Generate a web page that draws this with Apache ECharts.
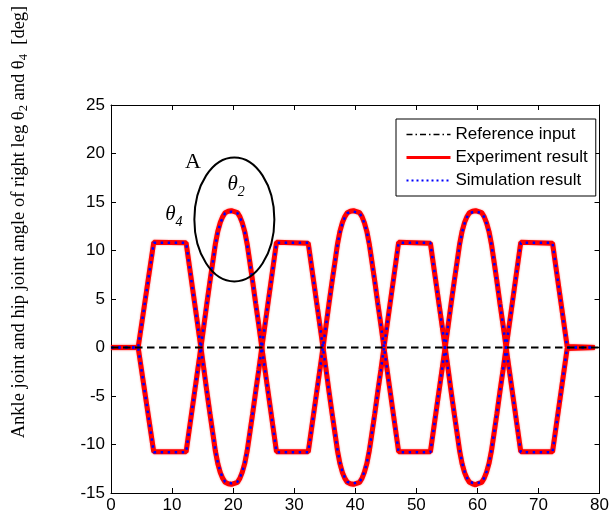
<!DOCTYPE html>
<html>
<head>
<meta charset="utf-8">
<script src="https://cdn.jsdelivr.net/npm/echarts@6/dist/echarts.min.js"></script>
<style>
  html, body { margin: 0; padding: 0; background: #fff; }
  #chart { width: 612px; height: 518px; }
</style>
</head>
<body>
<div id="chart"></div>
<script>
// Sampling instants [s]
const time = [
  0, 4.45, 7.0, 12.3, 14.7,
  15.2, 15.7, 16.2, 16.7, 17.1, 17.5, 17.9, 18.3, 18.7, 19.2, 19.7, 20.2, 20.7, 21.1, 21.5, 21.9, 22.3, 22.7, 23.2, 23.7, 24.2, 24.7,
  27.1, 32.3, 34.7,
  35.2, 35.7, 36.2, 36.7, 37.1, 37.5, 37.9, 38.3, 38.7, 39.2, 39.7, 40.2, 40.7, 41.1, 41.5, 41.9, 42.3, 42.7, 43.2, 43.7, 44.2, 44.7,
  47.1, 52.3, 54.7,
  55.2, 55.7, 56.2, 56.7, 57.1, 57.5, 57.9, 58.3, 58.7, 59.2, 59.7, 60.2, 60.7, 61.1, 61.5, 61.9, 62.3, 62.7, 63.2, 63.7, 64.2, 64.7,
  67.1, 72.3, 74.7, 79.2
];

// Ankle joint angle theta4 [deg]
const referenceAnkle = [
  0, 0, 10.8, 10.8, 0,
  -2.25, -4.5, -6.75, -8.9, -10.6, -11.9, -12.8, -13.45, -13.85, -13.95, -14.0, -13.95, -13.85, -13.45, -12.8, -11.9, -10.6, -8.9, -6.75, -4.5, -2.25, 0,
  10.8, 10.8, 0,
  -2.25, -4.5, -6.75, -8.9, -10.6, -11.9, -12.8, -13.45, -13.85, -13.95, -14.0, -13.95, -13.85, -13.45, -12.8, -11.9, -10.6, -8.9, -6.75, -4.5, -2.25, 0,
  10.8, 10.8, 0,
  -2.25, -4.5, -6.75, -8.9, -10.6, -11.9, -12.8, -13.45, -13.85, -13.95, -14.0, -13.95, -13.85, -13.45, -12.8, -11.9, -10.6, -8.9, -6.75, -4.5, -2.25, 0,
  10.8, 10.8, 0, 0
];
// Hip joint angle theta2 [deg]
const referenceHip = [
  0, 0, -10.8, -10.8, 0,
  2.25, 4.5, 6.75, 8.9, 10.6, 11.9, 12.8, 13.45, 13.85, 13.95, 14.0, 13.95, 13.85, 13.45, 12.8, 11.9, 10.6, 8.9, 6.75, 4.5, 2.25, 0,
  -10.8, -10.8, 0,
  2.25, 4.5, 6.75, 8.9, 10.6, 11.9, 12.8, 13.45, 13.85, 13.95, 14.0, 13.95, 13.85, 13.45, 12.8, 11.9, 10.6, 8.9, 6.75, 4.5, 2.25, 0,
  -10.8, -10.8, 0,
  2.25, 4.5, 6.75, 8.9, 10.6, 11.9, 12.8, 13.45, 13.85, 13.95, 14.0, 13.95, 13.85, 13.45, 12.8, 11.9, 10.6, 8.9, 6.75, 4.5, 2.25, 0,
  -10.8, -10.8, 0, 0
];

const experimentAnkle = [
  0, 0, 10.85, 10.8, 0.1,
  -2.2, -4.55, -6.8, -8.95, -10.7, -12.0, -12.9, -13.5, -13.9, -14.05, -14.1, -14.0, -13.9, -13.5, -12.85, -11.95, -10.65, -8.95, -6.8, -4.5, -2.3, 0,
  10.85, 10.75, 0.1,
  -2.2, -4.55, -6.8, -8.95, -10.7, -12.0, -12.9, -13.5, -13.9, -14.05, -14.1, -14.0, -13.9, -13.5, -12.85, -11.95, -10.65, -8.95, -6.8, -4.5, -2.3, 0,
  10.85, 10.75, 0.1,
  -2.2, -4.55, -6.8, -8.95, -10.7, -12.0, -12.9, -13.5, -13.9, -14.05, -14.15, -14.0, -13.9, -13.5, -12.85, -11.95, -10.65, -8.95, -6.8, -4.5, -2.3, 0,
  10.85, 10.75, 0.1, 0
];
const experimentHip = [
  0, 0, -10.75, -10.75, -0.1,
  2.2, 4.55, 6.8, 8.95, 10.7, 12.0, 12.9, 13.5, 13.9, 14.05, 14.1, 14.0, 13.9, 13.5, 12.85, 11.95, 10.65, 8.95, 6.8, 4.5, 2.3, 0,
  -10.75, -10.75, -0.1,
  2.2, 4.55, 6.8, 8.95, 10.7, 12.0, 12.9, 13.5, 13.9, 14.05, 14.1, 14.0, 13.9, 13.5, 12.85, 11.95, 10.65, 8.95, 6.8, 4.5, 2.3, 0,
  -10.75, -10.75, -0.1,
  2.2, 4.55, 6.8, 8.95, 10.7, 12.0, 12.9, 13.5, 13.9, 14.05, 14.1, 14.0, 13.9, 13.5, 12.85, 11.95, 10.65, 8.95, 6.8, 4.5, 2.3, 0,
  -10.75, -10.75, -0.1, 0
];

const simulationAnkle = [
  0, 0, 10.8, 10.8, 0,
  -2.25, -4.5, -6.75, -8.9, -10.6, -11.9, -12.8, -13.45, -13.85, -13.95, -14.0, -13.95, -13.85, -13.45, -12.8, -11.9, -10.6, -8.9, -6.75, -4.5, -2.25, 0,
  10.8, 10.8, 0,
  -2.25, -4.5, -6.75, -8.9, -10.6, -11.9, -12.8, -13.45, -13.85, -13.95, -14.0, -13.95, -13.85, -13.45, -12.8, -11.9, -10.6, -8.9, -6.75, -4.5, -2.25, 0,
  10.8, 10.8, 0,
  -2.25, -4.5, -6.75, -8.9, -10.6, -11.9, -12.8, -13.45, -13.85, -13.95, -14.0, -13.95, -13.85, -13.45, -12.8, -11.9, -10.6, -8.9, -6.75, -4.5, -2.25, 0,
  10.8, 10.8, 0, 0
];
const simulationHip = [
  0, 0, -10.8, -10.8, 0,
  2.25, 4.5, 6.75, 8.9, 10.6, 11.9, 12.8, 13.45, 13.85, 13.95, 14.0, 13.95, 13.85, 13.45, 12.8, 11.9, 10.6, 8.9, 6.75, 4.5, 2.25, 0,
  -10.8, -10.8, 0,
  2.25, 4.5, 6.75, 8.9, 10.6, 11.9, 12.8, 13.45, 13.85, 13.95, 14.0, 13.95, 13.85, 13.45, 12.8, 11.9, 10.6, 8.9, 6.75, 4.5, 2.25, 0,
  -10.8, -10.8, 0,
  2.25, 4.5, 6.75, 8.9, 10.6, 11.9, 12.8, 13.45, 13.85, 13.95, 14.0, 13.95, 13.85, 13.45, 12.8, 11.9, 10.6, 8.9, 6.75, 4.5, 2.25, 0,
  -10.8, -10.8, 0, 0
];

// Zero level guide
const zeroTime = [0, 80];
const zeroValue = [0, 0];

const xTicks = { min: 0, max: 80, interval: 10 };
const yTicks = { min: -15, max: 25, interval: 5 };

const legendNames = ['Reference input', 'Experiment result', 'Simulation result'];

// Annotation anchors in data units
const labelA = [13.4, 19.1];
const labelTheta2 = [20.5, 16.8];
const labelTheta4 = [10.3, 13.7];
const circleCenter = [20.2, 13.2];

const pair = (xs, ys) => xs.map((x, i) => [x, ys[i]]);

const sansFont = "'Liberation Sans', Arial, sans-serif";
const serifFont = "'Liberation Serif', 'Times New Roman', serif";

const chart = echarts.init(document.getElementById('chart'), null, { renderer: 'canvas' });

const axisCommon = {
  type: 'value',
  axisLine: { show: true, onZero: false, lineStyle: { color: '#000', width: 1 } },
  axisTick: { show: true, inside: true, length: 5, lineStyle: { color: '#000', width: 1 } },
  splitLine: { show: false }
};

const refStyle = { color: '#000', width: 1.5, type: [6, 3, 1.5, 3] };
const expStyle = { color: '#ff0000', width: 5, shadowColor: 'rgba(255,0,0,0.45)', shadowBlur: 2 };
const simStyle = { color: '#0000ff', width: 2.5, type: [2.5, 4.5] };

function lineSeries(name, data, style, z) {
  return {
    name, type: 'line', data, symbol: 'none', smooth: false,
    xAxisIndex: 0, yAxisIndex: 0, z,
    lineStyle: style, itemStyle: { color: style.color },
    emphasis: { disabled: true }
  };
}

chart.setOption({
  animation: false,
  backgroundColor: '#fff',
  grid: { left: 111, right: 10, top: 105, bottom: 25, containLabel: false },
  xAxis: [
    Object.assign({}, axisCommon, xTicks, { position: 'bottom',
      axisLabel: { color: '#000', fontSize: 17, fontFamily: sansFont, margin: 4 } }),
    Object.assign({}, axisCommon, xTicks, { position: 'top', axisLabel: { show: false } })
  ],
  yAxis: [
    Object.assign({}, axisCommon, yTicks, { position: 'left',
      axisLabel: { color: '#000', fontSize: 17, fontFamily: sansFont, margin: 6 } }),
    Object.assign({}, axisCommon, yTicks, { position: 'right', axisLabel: { show: false } })
  ],
  legend: {
    orient: 'vertical',
    left: 396, top: 119,
    padding: [7, 8, 7, 9],
    itemWidth: 44, itemHeight: 14, itemGap: 6,
    borderColor: '#000', borderWidth: 1, backgroundColor: '#fff',
    textStyle: { color: '#000', fontSize: 17, lineHeight: 17, fontFamily: sansFont },
    itemStyle: { opacity: 0 },
    selectedMode: false,
    data: [
      { name: legendNames[0], lineStyle: { width: 1.5 } },
      { name: legendNames[1], lineStyle: { width: 3, shadowBlur: 0 } },
      { name: legendNames[2], lineStyle: { width: 2, type: [2, 3] } }
    ]
  },
  series: [
    lineSeries(legendNames[0], pair(time, referenceAnkle), refStyle, 2),
    lineSeries(legendNames[0], pair(time, referenceHip), refStyle, 2),
    lineSeries(legendNames[1], pair(time, experimentAnkle), expStyle, 3),
    lineSeries(legendNames[1], pair(time, experimentHip), expStyle, 3),
    lineSeries(legendNames[2], pair(time, simulationAnkle), simStyle, 4),
    lineSeries(legendNames[2], pair(time, simulationHip), simStyle, 4),
    lineSeries('Zero level', pair(zeroTime, zeroValue), { color: '#000', width: 2, type: [7.5, 4.5] }, 5)
  ]
});

// Annotations placed from data coordinates
const px = p => chart.convertToPixel({ gridIndex: 0 }, p);
const pA = px(labelA), pT2 = px(labelTheta2), pT4 = px(labelTheta4), pC = px(circleCenter);

const thetaRich = {
  t: { fontFamily: serifFont, fontStyle: 'italic', fontSize: 21, fill: '#000' },
  s: { fontFamily: serifFont, fontStyle: 'italic', fontSize: 14, padding: [16, 0, 0, 0], fill: '#000' }
};

chart.setOption({
  graphic: [
    {
      type: 'ellipse', z: 50,
      shape: { cx: pC[0], cy: pC[1], rx: 40, ry: 62 },
      style: { fill: 'none', stroke: '#000', lineWidth: 2 }
    },
    {
      type: 'text', z: 50, x: pA[0], y: pA[1],
      style: { text: 'A', fontFamily: serifFont, fontSize: 22, fill: '#000', align: 'center', verticalAlign: 'middle' }
    },
    {
      type: 'text', z: 50, x: pT2[0], y: pT2[1],
      style: { text: '{t|θ}{s|2}', rich: thetaRich, align: 'center', verticalAlign: 'middle' }
    },
    {
      type: 'text', z: 50, x: pT4[0], y: pT4[1],
      style: { text: '{t|θ}{s|4}', rich: thetaRich, align: 'center', verticalAlign: 'middle' }
    },
    {
      // y-axis title, reading bottom to top
      type: 'text', z: 50, x: 19, y: 222, rotation: Math.PI / 2,
      style: {
        text: '{n|Ankle joint and hip joint angle of right leg θ}{s|2}{n| and θ}{s|4}{n|  [deg]}',
        align: 'center', verticalAlign: 'middle',
        rich: {
          n: { fontFamily: serifFont, fontSize: 18.5, fill: '#000' },
          s: { fontFamily: serifFont, fontSize: 12.5, padding: [10, 0, 0, 0], fill: '#000' }
        }
      }
    }
  ]
});
</script>
</body>
</html>
